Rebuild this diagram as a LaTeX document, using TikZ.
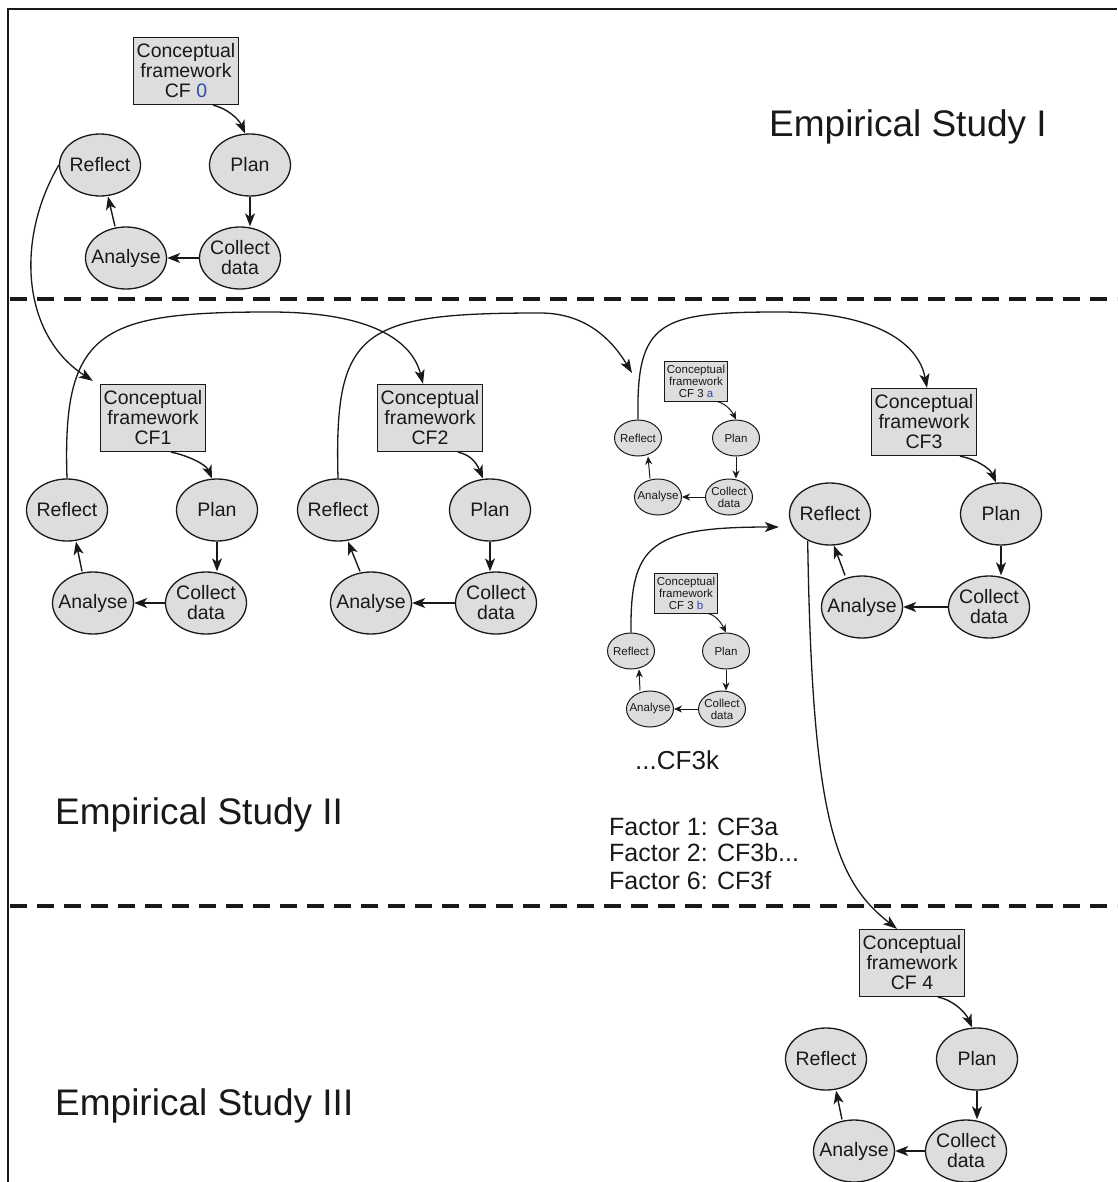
\documentclass[tikz,border=0pt]{standalone}
\usepackage{fontspec}
\setmainfont{Liberation Sans}
\usetikzlibrary{shapes.geometric,arrows.meta}
\definecolor{shade}{RGB}{221,221,221}
\definecolor{ink}{RGB}{25,25,25}
\definecolor{cfblue}{RGB}{45,75,170}

\begin{document}
\begin{tikzpicture}[x=1pt,y=-1pt,
  stage/.style={ellipse,draw=ink,fill=shade,line width=1.3pt,inner xsep=-7pt,inner ysep=-4pt,
    minimum width=81pt,minimum height=62pt,align=center,text=ink,font=\fontsize{19.5}{20}\selectfont},
  cfbox/.style={rectangle,draw=ink,fill=shade,line width=1.3pt,inner sep=0pt,
    minimum width=105pt,minimum height=67pt,align=center,text=ink,font=\fontsize{19.5}{20}\selectfont},
  tstage/.style={stage,line width=1pt,inner xsep=-4pt,inner ysep=-3pt,minimum width=47pt,minimum height=36pt,
    font=\fontsize{11.5}{12}\selectfont},
  tcfbox/.style={cfbox,line width=1pt,minimum width=63pt,minimum height=40pt,font=\fontsize{11.5}{12}\selectfont},
  arr/.style={draw=ink,line width=1.4pt,-{Stealth[length=13pt,width=10pt,inset=3.5pt]}},
  tarr/.style={draw=ink,line width=1pt,-{Stealth[length=8pt,width=7pt,inset=2.5pt]}},
  link/.style={draw=ink,line width=1.3pt,-{Stealth[length=14pt,width=10pt,inset=3.5pt]}},
  studylabel/.style={anchor=west,inner sep=0pt,text=ink,font=\fontsize{37}{40}\selectfont},
  factorlabel/.style={anchor=west,inner sep=0pt,text=ink,font=\fontsize{25}{27}\selectfont},
  divider/.style={draw=ink,line width=4pt,dash pattern=on 17pt off 10pt}]

\useasboundingbox (0,0) rectangle (1117,1182);

% outer frame and study dividers
\draw[ink,line width=2pt] (8,1182) -- (8,9) -- (1117,9);
\draw[divider] (10,299) -- (1117,299);
\draw[divider] (10,906) -- (1117,906);

% study labels
\node[studylabel] (s1) at (769,127) {Empirical Study I};
\node[studylabel] (s2) at (55,815) {Empirical Study II};
\node[studylabel] (s3) at (55,1106) {Empirical Study III};
\node[factorlabel,font=\fontsize{26}{28}\selectfont] (cfk) at (635,760) {...CF3k};
\node[factorlabel] (f1) at (609,827) {Factor 1: CF3a};
\node[factorlabel] (f2) at (609,853) {Factor 2: CF3b...};
\node[factorlabel] (f3) at (609,881) {Factor 6: CF3f};

% cycle 0
\node[cfbox] (cf0) at (186,71) {Conceptual\\framework\\CF \textcolor{cfblue}{0}};
\node[stage] (p0) at (250,165) {Plan};
\node[stage] (r0) at (100,165) {Reflect};
\node[stage] (c0) at (240,258) {Collect\\data};
\node[stage] (a0) at (126,258) {Analyse};

% cycle 1
\node[cfbox] (cf1) at (153,418) {Conceptual\\framework\\CF1};
\node[stage] (p1) at (217,510) {Plan};
\node[stage] (r1) at (67,510) {Reflect};
\node[stage] (c1) at (206,603) {Collect\\data};
\node[stage] (a1) at (93,603) {Analyse};

% cycle 2
\node[cfbox] (cf2) at (430,418) {Conceptual\\framework\\CF2};
\node[stage] (p2) at (490,510) {Plan};
\node[stage] (r2) at (338,510) {Reflect};
\node[stage] (c2) at (496,603) {Collect\\data};
\node[stage] (a2) at (371,603) {Analyse};

% cycle 3
\node[cfbox] (cf3) at (924,422) {Conceptual\\framework\\CF3};
\node[stage] (p3) at (1001,514) {Plan};
\node[stage] (r3) at (830,514) {Reflect};
\node[stage] (c3) at (989,607) {Collect\\data};
\node[stage] (a3) at (862,607) {Analyse};

% cycle 4
\node[cfbox] (cf4) at (912,963) {Conceptual\\framework\\CF 4};
\node[stage] (p4) at (977,1059) {Plan};
\node[stage] (r4) at (826,1059) {Reflect};
\node[stage] (c4) at (966,1151) {Collect\\data};
\node[stage] (a4) at (854,1151) {Analyse};

% sub-cycle 3a
\node[tcfbox] (cfa) at (696,381) {Conceptual\\framework\\CF 3 \textcolor{cfblue}{a}};
\node[tstage] (pa) at (736,438) {Plan};
\node[tstage] (ra) at (638,438) {Reflect};
\node[tstage] (ca) at (729,497) {Collect\\data};
\node[tstage] (aa) at (658,497) {Analyse};

% sub-cycle 3b
\node[tcfbox] (cfb) at (686,593) {Conceptual\\framework\\CF 3 \textcolor{cfblue}{b}};
\node[tstage] (pb) at (726,651) {Plan};
\node[tstage] (rb) at (631,651) {Reflect};
\node[tstage] (cb) at (722,709) {Collect\\data};
\node[tstage] (ab) at (650,709) {Analyse};

% steps inside each cycle
\foreach \k in {0,1,2,3,4}{
  \draw[arr] (p\k.south) -- (p\k.south |- c\k.north);
  \draw[arr] (c\k.west) -- (a\k.east);
}
\foreach \k in {a,b}{
  \draw[tarr] (p\k.south) -- (p\k.south |- c\k.north);
  \draw[tarr] (c\k.west) -- (a\k.east);
}
\draw[arr] ([xshift=-11pt]a0.north) -- ([xshift=8pt]r0.south);
\draw[arr] ([xshift=-11pt]a1.north) -- ([xshift=9pt]r1.south);
\draw[arr] ([xshift=-11pt]a2.north) -- ([xshift=10pt]r2.south);
\draw[arr] ([xshift=-17pt]a3.north) -- ([xshift=4pt]r3.south);
\draw[arr] ([xshift=-12pt]a4.north) -- ([xshift=10pt]r4.south);
\draw[tarr] ([xshift=-8pt]aa.north) -- ([xshift=10pt]ra.south);
\draw[tarr] ([xshift=-10pt]ab.north) -- ([xshift=8pt]rb.south);

\draw[arr] ([xshift=27pt]cf0.south) .. controls +(14,3) and +(-6,-14) .. ([xshift=-5pt]p0.north);
\draw[arr] ([xshift=18pt]cf1.south) .. controls +(16,3) and +(-6,-14) .. ([xshift=-5pt]p1.north);
\draw[arr] ([xshift=28pt]cf2.south) .. controls +(14,3) and +(-6,-14) .. ([xshift=-7pt]p2.north);
\draw[arr] ([xshift=36pt]cf3.south) .. controls +(16,3) and +(-6,-14) .. ([xshift=-5pt]p3.north);
\draw[arr] ([xshift=26pt]cf4.south) .. controls +(16,3) and +(-6,-14) .. ([xshift=-5pt]p4.north);
\draw[tarr] ([xshift=21pt]cfa.south) .. controls +(9,2) and +(-4,-8) .. (pa.north);
\draw[tarr] ([xshift=22pt]cfb.south) .. controls +(9,2) and +(-4,-8) .. (pb.north);

% links from one cycle to the next
\coordinate (t3) at (632,373);
\draw[link] (r0.west) .. controls (15,240) and (22,335) .. ([xshift=-7pt,yshift=3pt]cf1.north west);
\draw[link] (r1.north) .. controls (62,330) and (100,312) .. (270,312)
  .. controls (370,312) and (412,340) .. ([xshift=-7pt]cf2.north);
\draw[link] (r2.north) .. controls (334,330) and (360,313) .. (540,313)
  .. controls (590,313) and (615,345) .. (t3);
\draw[link] (ra.north) .. controls (636,320) and (660,312) .. (780,312)
  .. controls (870,312) and (918,340) .. ([xshift=3pt]cf3.north);
\draw[link] (rb.north) .. controls (630,545) and (650,527) .. ([xshift=-10pt,yshift=-13pt]r3.west);
\draw[link] (r3.-130) .. controls (812,820) and (835,880) .. ([xshift=-15pt]cf4.north);

\end{tikzpicture}
\end{document}
